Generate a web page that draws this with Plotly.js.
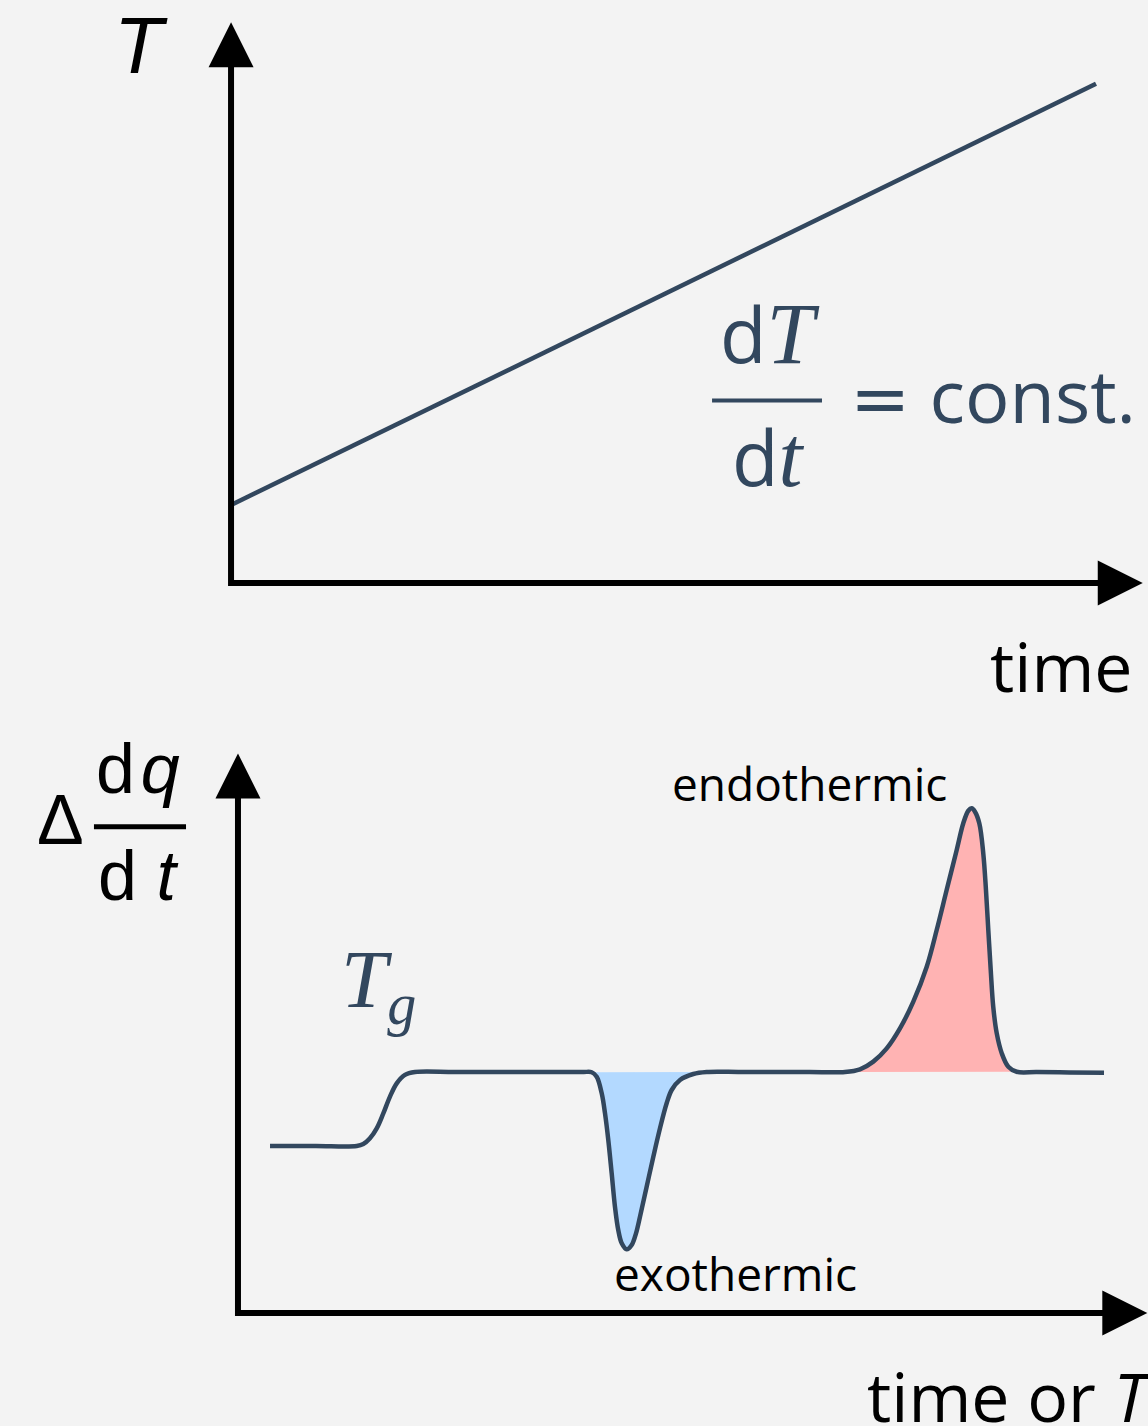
<!DOCTYPE html>
<html>
<head>
<meta charset="utf-8">
<script src="https://cdn.plot.ly/plotly-3.0.1.min.js"></script>
<style>
  html, body { margin: 0; padding: 0; background: #f3f3f3; }
  #chart { width: 1148px; height: 1426px; }
</style>
</head>
<body>
<div id="chart"></div>
<script>
// Heating programme: temperature rises linearly with time
const rampTime = [0, 10];
const rampTemp = [20, 128];

// DSC signal: glass step, crystallisation dip, melting peak
const dscX = [3.7, 9.0, 13.71, 14.47, 15.24, 16.02, 16.78, 17.55, 18.33, 19.28, 20.44,
              25.0, 31.0, 37.0, 39.9, 40.84, 41.42, 42.0, 42.38, 42.76, 43.15, 43.53, 43.91, 44.31,
              44.88, 45.46, 45.96, 46.42, 47.19, 47.96, 48.73, 49.5, 50.08, 51.04, 52.58, 54.12,
              58.0, 62.0, 66.0, 70.09, 71.82, 73.36, 74.91, 76.44, 77.98, 79.53, 80.68, 81.83,
              82.99, 83.75, 84.33, 84.72, 85.1, 85.6, 86.06, 86.37, 86.64, 86.92, 87.21, 87.61,
              88.19, 88.95, 89.92, 92.23, 96.0, 100.0];
const dscY = [69.3, 69.3, 69.3, 70.1, 72.5, 76.6, 82.8, 89.8, 95.3, 98.8, 100,
              100, 100, 100, 100, 99.9, 98.05, 91.16, 82.86, 71.78, 57.97, 44.11, 34.44, 28.92,
              26.43, 28.22, 33.07, 39.96, 52.41, 64.85, 76.64, 87.01, 92.53, 96.68, 99.17, 100,
              100, 100, 100, 100, 101.1, 104.3, 109.8, 118.1, 129.2, 143.7, 158.9, 175.5,
              192.1, 203.2, 208.4, 209.4, 208.0, 203.2, 190.7, 175.5, 158.9, 142.3, 127.1, 116.1,
              107.8, 102.2, 100.1, 100, 99.8, 99.7];
const dscBaseline = 100;
const exoSpan = [40.84, 54.12];
const endoSpan = [70.09, 89.92];

const slate = '#32475e';
const exoFill = '#b3d9ff';
const endoFill = '#ffb3b3';

// Axis tip positions in each panel's own units
const topTip = { x: 10.54, y: 143.8 };
const botTip = { x: 105.0, y: 232.2 };

function region(span, clip) {
  const xs = [], ys = [];
  dscX.forEach((x, i) => {
    if (x >= span[0] && x <= span[1]) { xs.push(x); ys.push(clip(dscY[i])); }
  });
  return { xs, ys };
}
const exo = region(exoSpan, y => Math.min(y, dscBaseline));
const endo = region(endoSpan, y => Math.max(y, dscBaseline));

const curveLine = { shape: 'spline', smoothing: 1 };
const traces = [
  { x: rampTime, y: rampTemp, xaxis: 'x', yaxis: 'y', mode: 'lines',
    line: { color: slate, width: 4.5 }, hoverinfo: 'skip' },
  { x: exo.xs, y: exo.ys, xaxis: 'x2', yaxis: 'y2', mode: 'lines', fill: 'toself',
    fillcolor: exoFill, line: Object.assign({ width: 0 }, curveLine), hoverinfo: 'skip' },
  { x: endo.xs, y: endo.ys, xaxis: 'x2', yaxis: 'y2', mode: 'lines', fill: 'toself',
    fillcolor: endoFill, line: Object.assign({ width: 0 }, curveLine), hoverinfo: 'skip' },
  { x: dscX, y: dscY, xaxis: 'x2', yaxis: 'y2', mode: 'lines',
    line: Object.assign({ color: slate, width: 4.5 }, curveLine), hoverinfo: 'skip' }
];

function axisArrow(xref, yref, x, y, ax, ay) {
  return { xref, yref, x, y, ax, ay, text: '', showarrow: true, arrowhead: 2,
           arrowsize: 1.5, arrowwidth: 6, arrowcolor: '#000', standoff: 0 };
}
function label(xref, yref, x, y, text, size, family, color, xanchor) {
  return { xref, yref, x, y, text, showarrow: false, xanchor: xanchor || 'center', yanchor: 'middle',
           font: { size, family, color } };
}
const sans = 'Open Sans, Noto Sans, sans-serif';
const lsans = 'Liberation Sans, Arial, sans-serif';
const serifSpan = (t, px) => `<span style="font-family:'Liberation Serif',serif;font-size:${px}px"><i>${t}</i></span>`;
const eqSpan = `<span style="font-family:'DejaVu Sans',sans-serif;font-size:72px">=</span>`;

const layout = {
  width: 1148, height: 1426,
  margin: { l: 0, r: 0, t: 0, b: 0, pad: 0 },
  paper_bgcolor: '#f3f3f3', plot_bgcolor: '#f3f3f3',
  showlegend: false,
  xaxis: { domain: [0, 1], range: [-2.671, 10.601], visible: false, anchor: 'y' },
  yaxis: { domain: [0.5, 1], range: [-33.33, 149.49], visible: false, anchor: 'x' },
  xaxis2: { domain: [0, 1], range: [-27.48, 105.08], visible: false, anchor: 'y2' },
  yaxis2: { domain: [0, 0.5], range: [-46.89, 248.96], visible: false, anchor: 'x2' },
  shapes: [
    { type: 'path', xref: 'x', yref: 'y', path: `M0,${topTip.y - 6} L0,0 L${topTip.x - 0.3},0`,
      line: { color: '#000', width: 6 } },
    { type: 'path', xref: 'x2', yref: 'y2', path: `M0,${botTip.y - 12} L0,0 L${botTip.x - 3},0`,
      line: { color: '#000', width: 6 } },
    // fraction bars
    { type: 'line', xref: 'x', yref: 'y', x0: 5.561, x1: 6.832, y0: 46.8, y1: 46.8,
      line: { color: slate, width: 4 } },
    { type: 'line', xref: 'x2', yref: 'y2', x0: -16.63, x1: -6.0, y0: 201.8, y1: 201.8,
      line: { color: '#000', width: 5 } }
  ],
  annotations: [
    axisArrow('x', 'y', 0, topTip.y, 0, 45),
    axisArrow('x', 'y', topTip.x, 0, -45, 0),
    axisArrow('x2', 'y2', 0, botTip.y, 0, 45),
    axisArrow('x2', 'y2', botTip.x, 0, -45, 0),

    label('x', 'y', -1.04, 137.8, '<i>T</i>', 80, lsans, '#000'),
    label('x', 'y', 6.23, 64.1, 'd' + serifSpan('T', 86), 76, sans, slate),
    label('x', 'y', 6.21, 32.4, 'd' + serifSpan('t', 86), 76, sans, slate),
    label('x', 'y', 7.133, 48.3, eqSpan + ' const.', 74, sans, slate, 'left'),
    label('x', 'y', 10.45, -21.05, 'time', 68, sans, '#000', 'right'),

    label('x2', 'y2', -20.44, 204.6, 'Δ', 70, lsans, '#000'),
    label('x2', 'y2', -11.5, 225.7, 'd\u200a<i>q</i>', 70, lsans, '#000'),
    label('x2', 'y2', -11.6, 181.2, 'd <i>t</i>', 70, lsans, '#000'),
    label('x2', 'y2', 11.66, 136.2, '<i>T</i><sub><i>g</i></sub>', 83, 'Liberation Serif, serif', slate, 'left'),
    label('x2', 'y2', 66.03, 220.1, 'endothermic', 46, sans, '#000'),
    label('x2', 'y2', 57.49, 16.8, 'exothermic', 46, sans, '#000'),
    label('x2', 'y2', 72.4, -34.1, 'time or <i>T</i>', 68, sans, '#000', 'left')
  ]
};

Plotly.newPlot('chart', traces, layout, { displayModeBar: false, staticPlot: true });
</script>
</body>
</html>
